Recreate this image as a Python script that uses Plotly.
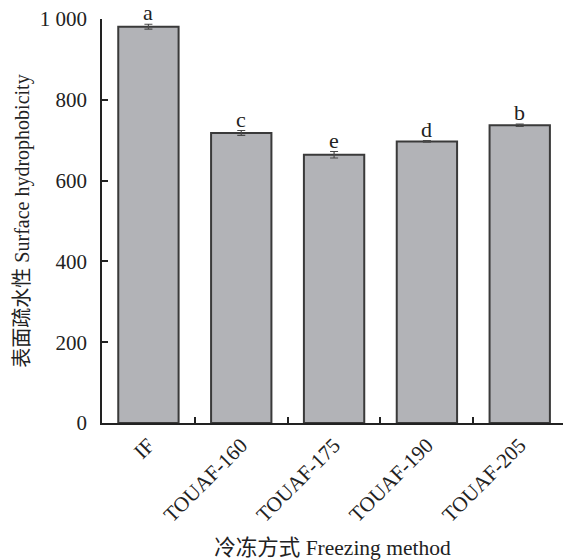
import plotly.graph_objects as go

# Surface hydrophobicity by freezing method
methods = ["IF", "TOUAF-160", "TOUAF-175", "TOUAF-190", "TOUAF-205"]
hydrophobicity = [981, 718, 664, 697, 737]
errors = [6, 6, 8, 2, 3]
letters = ["a", "c", "e", "d", "b"]

y_ticks = [0, 200, 400, 600, 800, 1000]
y_tick_text = ["0", "200", "400", "600", "800", "1 000"]

font_family = "Liberation Serif, Times New Roman, Noto Sans CJK SC, serif"
ink = "#222222"

fig = go.Figure()
fig.add_trace(go.Bar(
    x=methods,
    y=hydrophobicity,
    marker=dict(color="#b2b3b7", line=dict(color="#3a3a3a", width=2)),
    error_y=dict(type="data", array=errors, visible=True,
                 color="#4a4a4a", thickness=1.2, width=4),
    width=0.65,
))

for m, v, e, s in zip(methods, hydrophobicity, errors, letters):
    fig.add_annotation(x=m, y=v + e, text=s, showarrow=False,
                       yanchor="bottom", yshift=-3,
                       font=dict(family=font_family, size=22, color=ink))

fig.update_layout(
    width=563, height=560,
    margin=dict(l=102, r=0, t=19, b=135),
    plot_bgcolor="white", paper_bgcolor="white",
    showlegend=False,
    font=dict(family=font_family, size=20, color=ink),
    xaxis=dict(
        range=[-0.5, 4.466],
        showline=True, linecolor=ink, linewidth=1.5,
        ticks="inside", tickson="boundaries", ticklen=6,
        tickcolor=ink, tickwidth=1.5,
        tickangle=-45,
        tickfont=dict(family=font_family, size=21, color=ink),
        title=dict(text="冷冻方式 Freezing method", standoff=18,
                   font=dict(family=font_family, size=21.5, color=ink)),
    ),
    yaxis=dict(
        range=[0, 1000],
        tickvals=y_ticks, ticktext=y_tick_text,
        showline=True, linecolor=ink, linewidth=1.5,
        ticks="inside", ticklen=6, tickcolor=ink, tickwidth=1.5,
        showgrid=False, zeroline=False,
        ticklabelstandoff=9,
        tickfont=dict(family=font_family, size=21, color=ink),
        title=dict(text="表面疏水性 Surface hydrophobicity", standoff=5,
                   font=dict(family=font_family, size=20, color=ink)),
    ),
)

fig.write_html("out.html")
